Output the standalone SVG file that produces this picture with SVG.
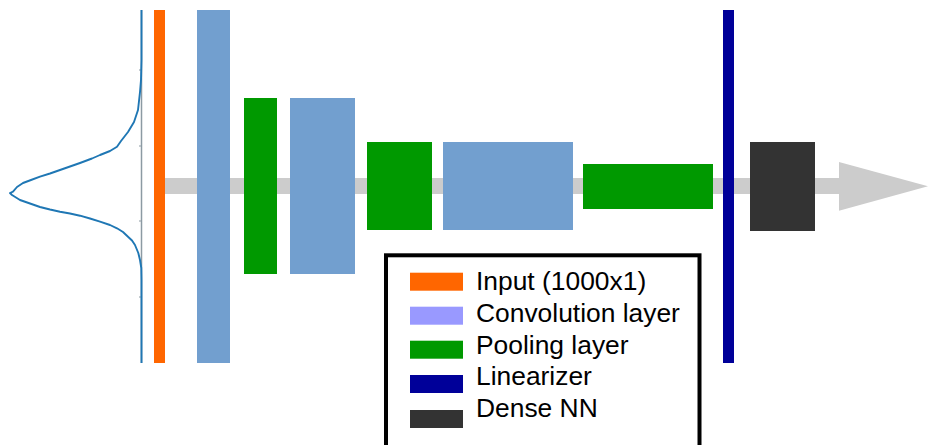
<svg xmlns="http://www.w3.org/2000/svg" width="928" height="445" viewBox="0 0 928 445">
  <style>
    .input{fill:#FF6600}
    .conv{fill:#729FCF}
    .pool{fill:#009900}
    .lin{fill:#000099}
    .dense{fill:#333333}
    .flow{fill:#CCCCCC}
    .lbl{font-family:"Liberation Sans",Arial,sans-serif;font-size:26.4px;fill:#000}
  </style>
  <rect width="928" height="445" fill="#FFFFFF"/>
  <g id="connectors">
    <rect class="flow" x="165" y="178" width="675" height="16"/>
    <polygon class="flow" points="839,162 928,186.3 839,210.7"/>
  </g>
  <g id="signal">
    <line x1="141.5" y1="10" x2="141.5" y2="363" stroke="#8c9aa3" stroke-width="1.5"/>
    <g stroke="#8c9aa3" stroke-width="1">
      <line x1="139" y1="70" x2="141.5" y2="70"/>
      <line x1="139" y1="146" x2="141.5" y2="146"/>
      <line x1="139" y1="221" x2="141.5" y2="221"/>
      <line x1="139" y1="297" x2="141.5" y2="297"/>
    </g>
    <path d="M141.5,10 L141.5,60 L141,80 L140,92 L138,110 L134,122 L128,132 L121,141 L117,146.7 L110,151 L100,155 L92,158.5 L80,163 L70,166.5 L60,170 L50,173.5 L40,176.7 L31,180 L23,183 L17,187 L13,191.7 L10,193 L12,195 L16,197.5 L20,200 L30,203.5 L40,207 L50,209.5 L60,211.7 L70,213.5 L80,215.7 L90,218.5 L100,221.7 L110,225 L117,228.3 L123,232 L128,236.7 L132,240.5 L135,245 L138.3,253 L140,260 L141.3,268 L141.5,280 L141.5,363" fill="none" stroke="#1f77b4" stroke-width="1.9" stroke-linejoin="round"/>
  </g>
  <g id="input"><rect class="input" x="154" y="10" width="11" height="353"/></g>
  <g id="conv1"><rect class="conv" x="197" y="10" width="33" height="353"/></g>
  <g id="pool1"><rect class="pool" x="244" y="98" width="33" height="176"/></g>
  <g id="conv2"><rect class="conv" x="290" y="98" width="65" height="176"/></g>
  <g id="pool2"><rect class="pool" x="367" y="142" width="65" height="88"/></g>
  <g id="conv3"><rect class="conv" x="443" y="142" width="130" height="88"/></g>
  <g id="pool3"><rect class="pool" x="583" y="164" width="130" height="45"/></g>
  <g id="linearizer"><rect class="lin" x="723" y="10" width="11" height="353"/></g>
  <g id="dense"><rect class="dense" x="750" y="142" width="65" height="89"/></g>
  <g id="legend">
    <rect x="386" y="255.3" width="313.5" height="200" fill="#FFFFFF" stroke="#000" stroke-width="4"/>
    <rect x="410" y="272.7" width="53" height="18" fill="#FF6600"/>
    <rect x="410" y="306.7" width="53" height="18" fill="#9999FF"/>
    <rect x="410" y="340.7" width="53" height="18" fill="#009900"/>
    <rect x="410" y="375" width="53" height="18" fill="#000099"/>
    <rect x="410" y="410" width="53" height="18" fill="#333333"/>
    <text class="lbl" x="476" y="289.5">Input (1000x1)</text>
    <text class="lbl" x="476" y="321.5">Convolution layer</text>
    <text class="lbl" x="476" y="353.5">Pooling layer</text>
    <text class="lbl" x="476" y="385">Linearizer</text>
    <text class="lbl" x="476" y="417">Dense NN</text>
  </g>
</svg>
